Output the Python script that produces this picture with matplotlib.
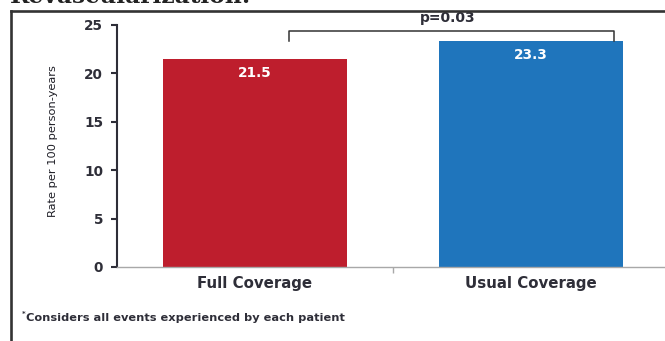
import matplotlib
matplotlib.use("Agg")
import matplotlib.pyplot as plt
from matplotlib.lines import Line2D

categories = ["Full Coverage", "Usual Coverage"]
rates = [21.5, 23.3]
bar_colors = ["#BE1E2D", "#1F75BC"]
y_ticks = [0, 5, 10, 15, 20, 25]
p_label = "p=0.03"

W, H = 665, 341
text_color = "#2E2E38"
bold = dict(family="DejaVu Sans", fontweight="bold")

fig = plt.figure(figsize=(W / 100, H / 100), dpi=100)

# slide title, mostly cropped off the top edge
fig.text(10 / W, 1 - 3 / H, "Revascularization:", family="DejaVu Serif",
         fontweight="bold", fontsize=16.8, color="#222222", va="baseline")

# panel frame (left and top edges only are in view)
fig.add_artist(Line2D([11 / W, 11 / W], [0, 1 - 10.5 / H], color="#333333", lw=1.9))
fig.add_artist(Line2D([11 / W, 1], [1 - 10.5 / H, 1 - 10.5 / H], color="#333333", lw=1.9))

ax = fig.add_axes([117 / W, (H - 267) / H, (669 - 117) / W, (267 - 25) / H])
x = range(len(categories))
ax.bar(x, rates, width=0.667, color=bar_colors, zorder=2)

for i, v in enumerate(rates):
    ax.text(i, v - 1.45, f"{v}", ha="center", va="center", color="white",
            fontsize=9.8, **bold)

# significance bracket
bx0, bx1, btop = 0.123, 1.30, 24.38
ax.plot([bx0, bx0, bx1, bx1], [rates[1], btop, btop, rates[1]],
        color="#333333", lw=1.1, clip_on=False, zorder=3)
ax.text((bx0 + bx1) / 2 - 0.013, 25.05, p_label, ha="center", va="bottom",
        fontsize=10, color=text_color, **bold)

ax.set_xlim(-0.5, 1.5)
ax.set_ylim(0, 25)
ax.set_yticks(y_ticks)
ax.set_xticks(list(x))
ax.set_xticklabels(categories, fontsize=10.8, color=text_color, **bold)
ax.set_xticks([0.5], minor=True)
ax.tick_params(axis="x", which="major", length=0, pad=6.5)
ax.tick_params(axis="x", which="minor", length=4, width=1, color="#A8A8A8", direction="out")
ax.tick_params(axis="y", length=4, width=1.5, color=text_color, pad=6,
               labelsize=9.8, labelcolor=text_color)
for lab in ax.get_yticklabels():
    lab.set_fontweight("bold")
    lab.set_family("DejaVu Sans")

for s in ["top", "right"]:
    ax.spines[s].set_visible(False)
ax.spines["left"].set_color(text_color)
ax.spines["left"].set_linewidth(1.5)
ax.spines["bottom"].set_color("#A8A8A8")
ax.spines["bottom"].set_linewidth(1.0)

fig.text(53 / W, 1 - 141 / H, "Rate per 100 person-years", rotation=90,
         ha="center", va="center", fontsize=8.2, color="#1E1E26",
         family="DejaVu Sans")

# footnote
fig.text(22 / W, 1 - 314 / H, "*", fontsize=5, color=text_color, va="center", **bold)
fig.text(26 / W, 1 - 318 / H, "Considers all events experienced by each patient",
         fontsize=8.2, color=text_color, va="center", **bold)

fig.savefig("out.png", dpi=100)
